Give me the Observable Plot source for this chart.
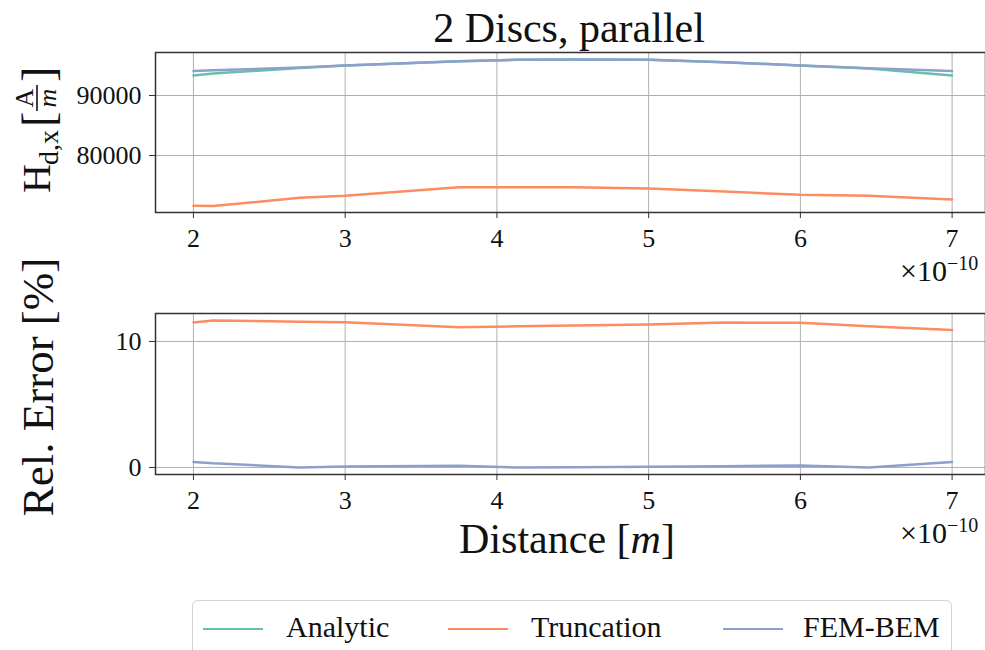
<!DOCTYPE html>
<html>
<head>
<meta charset="utf-8">
<script src="https://cdn.jsdelivr.net/npm/d3@7"></script>
<script src="https://cdn.jsdelivr.net/npm/@observablehq/plot@0.6"></script>
<style>
  html, body { margin: 0; padding: 0; background: #fff; overflow: hidden; }
  #wrap { position: relative; width: 985px; height: 650px; overflow: hidden; font-family: "Liberation Serif", serif; color: #111; }
  #top, #bottom { position: absolute; left: 0; }
  #top { top: 0; }
  #bottom { top: 262px; }
  #top svg, #bottom svg { font-family: "Liberation Serif", serif !important; background: transparent !important; overflow: visible; }
  #top svg text, #bottom svg text { font-family: "Liberation Serif", serif !important; font-size: 26px !important; }
  #overlay { position: absolute; left: 0; top: 0; pointer-events: none; }
  #legend { position: absolute; left: 192px; top: 600px; width: 760px; height: 70px; border: 1.5px solid #d4d4d4; border-radius: 6px; background: #fff; box-sizing: border-box; }
  .lg-line { position: absolute; top: 27px; width: 60px; height: 0; border-top: 2.5px solid; }
  .lg-text { position: absolute; top: 8px; font-size: 30px; line-height: 36px; white-space: nowrap; }
</style>
</head>
<body>
<div id="wrap">
  <div id="top"></div>
  <div id="bottom"></div>
  <svg id="overlay" width="985" height="650"></svg>
  <div id="legend"></div>
</div>
<script>
// ---- data ----
const distance = [2.0, 2.13, 2.7, 3.0, 3.75, 4.13, 4.5, 5.0, 5.5, 6.0, 6.45, 7.0]; // ×1e-10 m
const analyticH = [93333, 93650, 94600, 95000, 95700, 95950, 96000, 95950, 95550, 95000, 94500, 93333];
const truncationH = [71620, 71580, 72950, 73280, 74720, 74720, 74700, 74500, 74000, 73450, 73300, 72670];
const femBemH = [94100, 94200, 94650, 95000, 95700, 95950, 96000, 95950, 95550, 95000, 94550, 94100];
const truncationErr = [11.51, 11.67, 11.57, 11.53, 11.13, 11.20, 11.27, 11.35, 11.51, 11.48, 11.21, 10.92];
const femBemErr = [0.44, 0.33, 0.0, 0.08, 0.14, 0.0, 0.02, 0.05, 0.1, 0.16, 0.0, 0.44];
const xTicks = [2, 3, 4, 5, 6, 7];
const topYTicks = [80000, 90000];
const bottomYTicks = [0, 10];
const seriesNames = ["Analytic", "Truncation", "FEM-BEM"];
const titleText = "2 Discs, parallel";

// ---- styles ----
const colors = {"Analytic": "#66c2a5", "Truncation": "#fc8d62", "FEM-BEM": "#8da0cb"};
const gridStyle = {stroke: "#b0b0b0", strokeOpacity: 1, strokeWidth: 1};
const lineW = 2.5;
const FONT = "Liberation Serif";
const TICK_FS = 26;

function rows(values, name) {
  return distance.map((d, i) => ({d, v: values[i], series: name}));
}

const baseStyle = `font-family: '${FONT}', serif; font-size: ${TICK_FS}px; background: transparent; color: #111; overflow: visible;`;

function axes(yTicks) {
  return [
    Plot.axisX(xTicks, {tickSize: 6, tickPadding: 10, label: null, tickFormat: d => String(d), stroke: "#333", fontSize: TICK_FS, fontFamily: FONT, fill: "#111"}),
    Plot.axisY(yTicks, {tickSize: 6, tickPadding: 8, label: null, tickFormat: d => String(d), stroke: "#333", fontSize: TICK_FS, fontFamily: FONT, fill: "#111"})
  ];
}

const topPlot = Plot.plot({
  width: 985, height: 262,
  marginTop: 52, marginBottom: 50, marginLeft: 155, marginRight: 0,
  x: {domain: [1.75, 7.22]},
  y: {domain: [70500, 97170]},
  style: baseStyle,
  marks: [
    Plot.gridX(xTicks, gridStyle),
    Plot.gridY(topYTicks, gridStyle),
    Plot.line(rows(analyticH, "Analytic"), {x: "d", y: "v", stroke: colors["Analytic"], strokeWidth: lineW}),
    Plot.line(rows(truncationH, "Truncation"), {x: "d", y: "v", stroke: colors["Truncation"], strokeWidth: lineW}),
    Plot.line(rows(femBemH, "FEM-BEM"), {x: "d", y: "v", stroke: colors["FEM-BEM"], strokeWidth: lineW}),
    ...axes(topYTicks),
    Plot.frame({stroke: "#333", strokeWidth: 1.5})
  ]
});
document.getElementById("top").appendChild(topPlot);

const bottomPlot = Plot.plot({
  width: 985, height: 300,
  marginTop: 51, marginBottom: 88, marginLeft: 155, marginRight: 0,
  x: {domain: [1.75, 7.22]},
  y: {domain: [-0.56, 12.22]},
  style: baseStyle,
  marks: [
    Plot.gridX(xTicks, gridStyle),
    Plot.gridY(bottomYTicks, gridStyle),
    Plot.line(rows(truncationErr, "Truncation"), {x: "d", y: "v", stroke: colors["Truncation"], strokeWidth: lineW}),
    Plot.line(rows(femBemErr, "FEM-BEM"), {x: "d", y: "v", stroke: colors["FEM-BEM"], strokeWidth: lineW}),
    ...axes(bottomYTicks),
    Plot.frame({stroke: "#333", strokeWidth: 1.5})
  ]
});
document.getElementById("bottom").appendChild(bottomPlot);

// ---- overlay texts ----
const svg = d3.select("#overlay").style("font-family", `'${FONT}', serif`).attr("fill", "#111");

svg.append("text").attr("x", 569).attr("y", 42).attr("text-anchor", "middle")
  .attr("font-size", 42).text(titleText);

// x label
const xl = svg.append("text").attr("x", 567).attr("y", 553).attr("text-anchor", "middle").attr("font-size", 42);
xl.append("tspan").text("Distance [");
xl.append("tspan").attr("font-style", "italic").text("m");
xl.append("tspan").text("]");

// ×10^-10 multipliers
function mult(y) {
  const t = svg.append("text").attr("x", 900).attr("y", y).attr("font-size", 30);
  t.append("tspan").text("×10");
  t.append("tspan").attr("font-size", 20).attr("dy", -11).text("−10");
}
mult(281);
mult(543);

// top y label: H_{d,x}[A/m]
const g1 = svg.append("g").attr("transform", "translate(50,193) rotate(-90)");
g1.append("text").attr("x", 0).attr("y", 0).attr("font-size", 40).text("H");
g1.append("text").attr("x", 28).attr("y", 8).attr("font-size", 28).text("d,x");
g1.append("text").attr("x", 66).attr("y", 4).attr("font-size", 46).text("[");
g1.append("text").attr("x", 95).attr("y", -17).attr("font-size", 26).attr("text-anchor", "middle").text("A");
g1.append("line").attr("x1", 82).attr("x2", 108).attr("y1", -13).attr("y2", -13).attr("stroke", "#111").attr("stroke-width", 1.6);
g1.append("text").attr("x", 95).attr("y", 6).attr("font-size", 26).attr("font-style", "italic").attr("text-anchor", "middle").text("m");
g1.append("text").attr("x", 111).attr("y", 4).attr("font-size", 46).text("]");

// bottom y label
svg.append("text").attr("transform", "translate(53,387) rotate(-90)").attr("text-anchor", "middle")
  .attr("font-size", 45).text("Rel. Error [%]");

// ---- legend ----
const legend = d3.select("#legend");
const lgPos = [[10, 93], [255, 338], [530, 610]];
seriesNames.forEach((name, i) => {
  legend.append("div").attr("class", "lg-line").style("left", lgPos[i][0] + "px").style("border-top-color", colors[name]);
  legend.append("div").attr("class", "lg-text").style("left", lgPos[i][1] + "px").text(name);
});
</script>
</body>
</html>
